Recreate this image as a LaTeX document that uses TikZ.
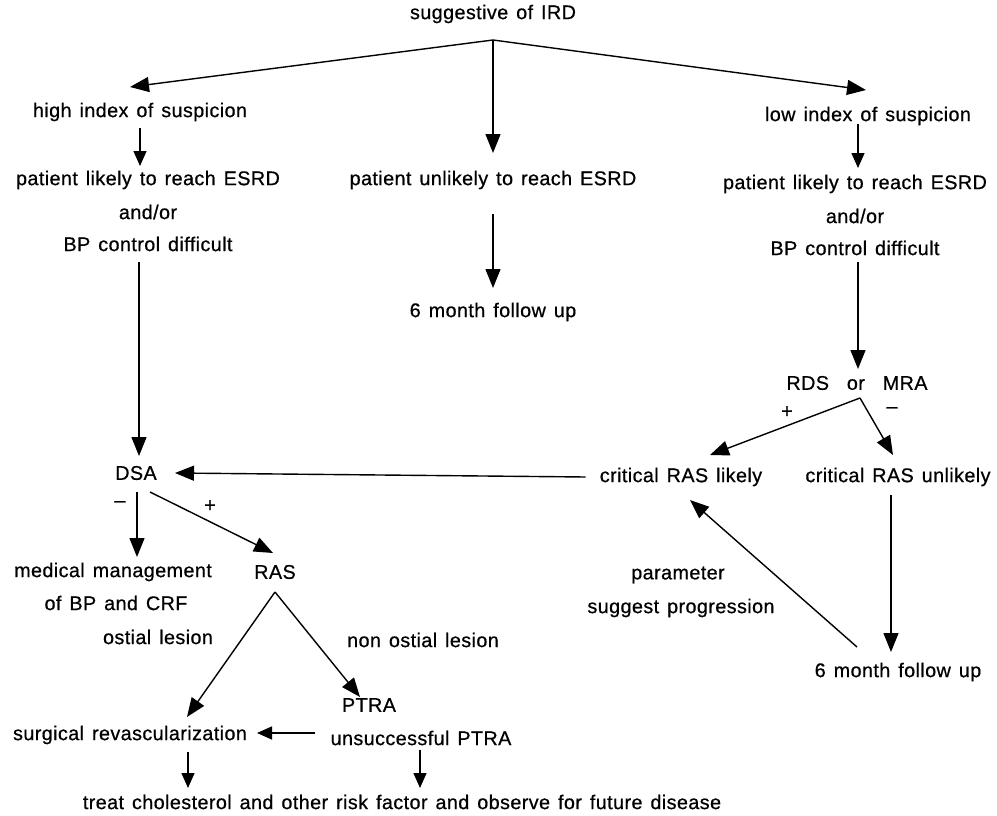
\documentclass[tikz,border=0pt]{standalone}
\usepackage{fontspec}
\setmainfont{Liberation Sans}[LetterSpace=2, WordSpace=1.35, FakeBold=0.6]
\usetikzlibrary{arrows.meta}
\begin{document}
\begin{tikzpicture}[x=1pt,y=-1pt,
  txt/.style={inner sep=0pt, font=\fontsize{19.8}{21}\selectfont},
  arr/.style={-{Triangle[length=19pt,width=15pt]}, line width=1.4pt},
  sarr/.style={-{Triangle[length=15pt,width=13pt]}, line width=1.4pt}]
\useasboundingbox (0,0) rectangle (997,816);
% nodes
\node[txt] (ird) at (493,14) {suggestive of IRD};
\node[txt] (hi) at (140,112) {high index of suspicion};
\node[txt] (lo) at (868,116) {low index of suspicion};
\node[txt] (pl1) at (148,180) {patient likely to reach ESRD};
\node[txt] (ao1) at (148,212) {and/or};
\node[txt] (bp1) at (148,244) {BP control difficult};
\node[txt] (pu) at (493,180) {patient unlikely to reach ESRD};
\node[txt] (fu1) at (493,312) {6 month follow up};
\node[txt] (pl2) at (855,184) {patient likely to reach ESRD};
\node[txt] (ao2) at (855,216) {and/or};
\node[txt] (bp2) at (855,248) {BP control difficult};
\node[txt] (rds) at (857,383) {RDS\hspace{0.5em} or\hspace{0.5em} MRA};
\node[txt] (plus2) at (787,412) {+};
\node[txt] (minus2) at (892,410) {\textendash};
\node[txt] (crl) at (681,477) {critical RAS likely};
\node[txt] (cru) at (898,477) {critical RAS unlikely};
\node[txt] (par) at (678,575) {parameter};
\node[txt] (sug) at (681,608) {suggest progression};
\node[txt] (fu2) at (898,672) {6 month follow up};
\node[txt] (dsa) at (136,473) {DSA};
\node[txt] (minus1) at (120,504) {\textendash};
\node[txt] (plus1) at (210,506) {+};
\node[txt] (mm) at (113,572) {medical management};
\node[txt] (bpc) at (116,603) {of BP and CRF};
\node[txt] (ost) at (158,637) {ostial lesion};
\node[txt] (ras) at (275,572) {RAS};
\node[txt] (nost) at (423,640) {non ostial lesion};
\node[txt] (ptra) at (369,705) {PTRA};
\node[txt] (uptra) at (421,738) {unsuccessful PTRA};
\node[txt] (surg) at (130,735) {surgical revascularization};
\node[txt] (treat) at (402,802) {treat cholesterol and other risk factor and observe for future disease};
% coordinates
\coordinate (irdsplit) at (493,40);
\coordinate (rdssplit) at (860,398);
\coordinate (rassplit) at (275,592);
% connectors
\draw[arr] (irdsplit) -- (130,87);
\draw[arr] (irdsplit) -- (493,153);
\draw[arr] (irdsplit) -- (866,90);
\draw[sarr] (140,128) -- (140,166);
\draw[sarr] (858,124) -- (858,168);
\draw[arr] (493,214) -- (493,288);
\draw[arr] (139,262) -- (139,456);
\draw[arr] (858,262) -- (858,369);
\draw[arr] (rdssplit) -- (710,455);
\draw[arr] (rdssplit) -- (893,455);
\draw[arr] (crl.west) ++(-14,0) -- (175,473);
\draw[arr] (891,495) -- (891,652);
\draw[arr] (857,647) -- (690,500);
\draw[arr] (137,492) -- (137,557);
\draw[arr] (150,492) -- (273,553);
\draw[arr] (rassplit) -- (187,717);
\draw[arr] (rassplit) -- (360,697);
\draw[sarr] (315,733) -- (257,733);
\draw[sarr] (188,752) -- (188,788);
\draw[sarr] (420,750) -- (420,788);
\end{tikzpicture}
\end{document}
